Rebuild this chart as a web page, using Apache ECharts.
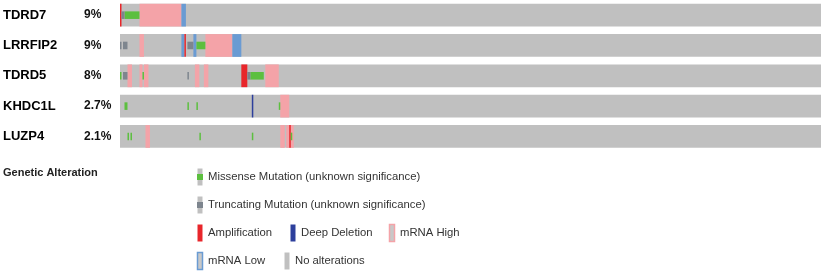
<!DOCTYPE html>
<html>
<head>
<meta charset="utf-8">
<script src="https://cdn.jsdelivr.net/npm/echarts@6/dist/echarts.min.js"></script>
<style>
html,body{margin:0;padding:0;background:#fff}
#main{width:825px;height:271px}
</style>
</head>
<body>
<div id="main"></div>
<script>
// genes and altered percentages
var genes = ['TDRD7', 'LRRFIP2', 'TDRD5', 'KHDC1L', 'LUZP4'];
var percents = ['9%', '9%', '8%', '2.7%', '2.1%'];
var sampleCount = 468;

// [gene index, first sample, end sample]
var mrnaHigh = [[0,13,41],[1,13,16],[1,57,75],[2,5,8],[2,13,15],[2,16,19],[2,50,53],[2,56,59],[2,97,106],
                [3,107,113],[4,17,20],[4,107,110],[4,111,116]];
var mrnaLow = [[0,41,44],[1,41,43],[1,49,51],[1,75,81]];
var amplification = [[0,0,1],[1,43,44],[2,81,85],[4,113,114]];
var deepDeletion = [[3,88,89]];
var missense = [[0,3,13],[1,51,57],[2,0,1],[2,15,16],[2,87,96],[3,3,5],[3,45,46],[3,51,52],[3,106,107],
                [4,5,6],[4,7,8],[4,53,54],[4,88,89],[4,114,115]];
var truncating = [[0,1,3],[1,0,1],[1,2,5],[1,45,49],[2,2,5],[2,45,46],[2,85,87]];

var kinds = [
	{name:'none', color:'#c0c0c0', small:false, list:genes.map(function(g, i){ return [i, 0, sampleCount]; })},
	{name:'mRNA High', color:'#f4a3a8', small:false, list:mrnaHigh},
	{name:'mRNA Low', color:'#6a9bd3', small:false, list:mrnaLow},
	{name:'Amplification', color:'#e8262b', small:false, list:amplification},
	{name:'Deep Deletion', color:'#2d3f9c', small:false, list:deepDeletion},
	{name:'Missense', color:'#5cbf3f', small:true, list:missense},
	{name:'Truncating', color:'#7d858e', small:true, list:truncating}
];

var cells = [];
for (var k = 0; k < kinds.length; k++) {
	for (var j = 0; j < kinds[k].list.length; j++) {
		var c = kinds[k].list[j];
		cells.push([c[0], c[1], c[2], k]);
	}
}

function renderItem(params, api) {
	var g = api.value(0);
	var p0 = api.coord([api.value(1), g]);
	var p1 = api.coord([api.value(2), g]);
	var band = api.size([0, 1])[1];
	var h = band * 0.75;
	var kind = kinds[api.value(3)];
	if (kind.small) h = h / 3;
	return {
		type: 'rect',
		shape: {x: p0[0], y: p0[1] - h / 2, width: Math.max(p1[0] - p0[0], 1), height: h},
		style: {fill: kind.color}
	};
}

// legend: [label, fill, inner color, border color, x, y]
var legendItems = [
	['Missense Mutation (unknown significance)', '#c0c0c0', '#5cbf3f', null, 197, 177],
	['Truncating Mutation (unknown significance)', '#c0c0c0', '#7d858e', null, 197, 205],
	['Amplification', '#e8262b', null, null, 197, 233],
	['Deep Deletion', '#2d3f9c', null, null, 290, 233],
	['mRNA High', '#c8c8c8', null, '#f4a3a8', 389, 233],
	['mRNA Low', '#c8c8c8', null, '#6a9bd3', 197, 261],
	['No alterations', '#c0c0c0', null, null, 284, 261]
];
var graphics = [{
	type: 'text', left: 3, top: 167,
	style: {text: 'Genetic Alteration', font: 'bold 11px Arial', fill: '#222'}
}];
legendItems.forEach(function(it) {
	graphics.push({
		type: 'rect',
		shape: {x: it[4] + 0.5, y: it[5] - 8.5, width: 5, height: 17},
		style: {fill: it[1], stroke: it[3] || null, lineWidth: it[3] ? 1.5 : 0}
	});
	if (it[2]) {
		graphics.push({
			type: 'rect',
			shape: {x: it[4], y: it[5] - 3, width: 6, height: 6},
			style: {fill: it[2]}
		});
	}
	graphics.push({
		type: 'text', x: it[4] + 11, y: it[5],
		style: {text: it[0], font: '11.3px Arial', fill: '#333', verticalAlign: 'middle'}
	});
});

var myChart = echarts.init(document.getElementById('main'));
var option = {
	animation: false,
	grid: {left: 119, right: 4, top: -2.4, height: 154},
	xAxis: {type: 'value', min: 0, max: sampleCount, show: false},
	yAxis: {
		type: 'category', inverse: true, data: genes,
		axisLine: {show: false}, axisTick: {show: false}, splitLine: {show: false},
		axisLabel: {
			align: 'left', margin: 117,
			formatter: function(v, i) { return '{g|' + v + '}{p|' + percents[i] + '}'; },
			rich: {
				g: {width: 81, fontFamily: 'Arial', fontWeight: 'bold', fontSize: 13, color: '#000'},
				p: {fontFamily: 'Arial', fontWeight: 'bold', fontSize: 12, color: '#111'}
			}
		}
	},
	graphic: graphics,
	series: [{
		type: 'custom',
		renderItem: renderItem,
		encode: {x: [1, 2], y: 0},
		data: cells
	}]
};
myChart.setOption(option);
</script>
</body>
</html>
